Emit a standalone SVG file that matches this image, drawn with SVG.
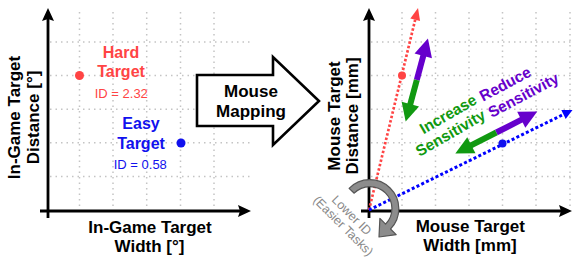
<svg xmlns="http://www.w3.org/2000/svg" width="582" height="267" viewBox="0 0 582 267">
<style>
text{font-family:"Liberation Sans",Arial,sans-serif}
.b{font-weight:bold}
.lbl{font-size:17px;font-weight:bold;fill:#000}
.tg{font-size:16px;font-weight:bold}
.id{font-size:13px}
.grid line{stroke:#c4c4c4;stroke-width:1.5;stroke-dasharray:1.5 4}
.axis{stroke:#000;stroke-width:2.8;fill:none;marker-end:url(#ax)}
.red{fill:#ff4444}
.blue{fill:#1111ee}
.sens{font-size:15.5px;font-weight:bold}
</style>
<defs>
<marker id="ax" markerUnits="userSpaceOnUse" markerWidth="14" markerHeight="12" refX="3" refY="6" orient="auto" overflow="visible">
<path d="M0,0 L13,6 L0,12 L2,6 z" fill="#000"/>
</marker>
<marker id="rh" markerUnits="userSpaceOnUse" markerWidth="12" markerHeight="10" refX="0" refY="0" orient="auto" overflow="visible">
<path d="M0,-5 L12,0 L0,5 z" fill="#ff4444"/>
</marker>
<marker id="bh" markerUnits="userSpaceOnUse" markerWidth="10" markerHeight="10" refX="0" refY="0" orient="auto" overflow="visible">
<path d="M0,-5 L10,0 L0,5 z" fill="#0000ff"/>
</marker>
</defs>
<rect width="582" height="267" fill="#fff"/>

<g id="left-grid" class="grid">
<line x1="79.5" y1="12" x2="79.5" y2="209"/>
<line x1="113" y1="12" x2="113" y2="209"/>
<line x1="146.7" y1="12" x2="146.7" y2="209"/>
<line x1="180.5" y1="12" x2="180.5" y2="209"/>
<line x1="214" y1="12" x2="214" y2="209"/>
<line x1="50" y1="42" x2="250" y2="42"/>
<line x1="50" y1="75.6" x2="250" y2="75.6"/>
<line x1="50" y1="109.2" x2="250" y2="109.2"/>
<line x1="50" y1="142.8" x2="250" y2="142.8"/>
<line x1="50" y1="176.4" x2="250" y2="176.4"/>
</g>
<g id="right-grid" class="grid">
<line x1="402" y1="12" x2="402" y2="209"/>
<line x1="435.5" y1="12" x2="435.5" y2="209"/>
<line x1="469" y1="12" x2="469" y2="209"/>
<line x1="502.5" y1="12" x2="502.5" y2="209"/>
<line x1="536" y1="12" x2="536" y2="209"/>
<line x1="570" y1="12" x2="570" y2="209"/>
<line x1="371" y1="42" x2="573" y2="42"/>
<line x1="371" y1="75.6" x2="573" y2="75.6"/>
<line x1="371" y1="109.2" x2="573" y2="109.2"/>
<line x1="371" y1="142.8" x2="573" y2="142.8"/>
<line x1="371" y1="176.4" x2="573" y2="176.4"/>
</g>

<g id="connectors">
<line class="axis" x1="48" y1="218" x2="48" y2="18"/>
<line class="axis" x1="40" y1="211" x2="241" y2="211"/>
<line class="axis" x1="369" y1="218" x2="369" y2="18"/>
<line class="axis" x1="361" y1="211" x2="562" y2="211"/>
<line x1="369" y1="210" x2="415.2" y2="19.7" stroke="#ff4444" stroke-width="2.7" stroke-dasharray="2.5 2" marker-end="url(#rh)"/>
<line x1="369" y1="210" x2="563.5" y2="114.4" stroke="#0000ff" stroke-width="3" stroke-dasharray="3 2.3" marker-end="url(#bh)"/>
</g>

<g id="hard-target">
<circle cx="79.5" cy="75.5" r="4.5" class="red"/>
<text x="121" y="57.5" text-anchor="middle" class="tg red">Hard</text>
<text x="121" y="77" text-anchor="middle" class="tg red">Target</text>
<text x="121.3" y="97.5" text-anchor="middle" class="id red">ID = 2.32</text>
</g>
<g id="easy-target">
<circle cx="181" cy="143" r="4.5" class="blue"/>
<text x="141" y="129" text-anchor="middle" class="tg blue">Easy</text>
<text x="141" y="149" text-anchor="middle" class="tg blue">Target</text>
<text x="140.3" y="169" text-anchor="middle" class="id blue">ID = 0.58</text>
</g>

<g id="left-y-label" transform="translate(0,117.5) rotate(-90)">
<text x="0" y="19.5" text-anchor="middle" class="lbl">In-Game Target</text>
<text x="0" y="38.5" text-anchor="middle" class="lbl">Distance [°]</text>
</g>
<g id="left-x-label">
<text x="150" y="233.3" text-anchor="middle" class="lbl">In-Game Target</text>
<text x="149.5" y="252.3" text-anchor="middle" class="lbl">Width [°]</text>
</g>

<g id="mouse-mapping">
<polygon points="197,75 273,75 273,57 319,101 273,145 273,126 197,126" fill="#fff" stroke="#000" stroke-width="2.6" stroke-linejoin="miter"/>
<text x="251" y="97" text-anchor="middle" class="lbl">Mouse</text>
<text x="251" y="117" text-anchor="middle" class="lbl">Mapping</text>
</g>

<g id="right-y-label" transform="translate(0,116) rotate(-90)">
<text x="0" y="339.5" text-anchor="middle" class="lbl">Mouse Target</text>
<text x="0" y="358" text-anchor="middle" class="lbl">Distance [mm]</text>
</g>
<g id="right-x-label">
<text x="470.3" y="231.7" text-anchor="middle" class="lbl">Mouse Target</text>
<text x="470" y="251" text-anchor="middle" class="lbl">Width [mm]</text>
</g>

<g id="hard-mouse">
<circle cx="402" cy="75.5" r="4" class="red"/>
</g>
<g id="easy-mouse">
<circle cx="502.5" cy="143.5" r="4" class="blue"/>
</g>

<g id="sens-arrow-hard" transform="translate(416.8,80) rotate(-75)">
<line x1="0" y1="0" x2="27" y2="0" stroke="#6600cc" stroke-width="6"/>
<polygon points="43,0 25,-9 25,9" fill="#6600cc"/>
<line x1="0" y1="0" x2="-27" y2="0" stroke="#119911" stroke-width="6"/>
<polygon points="-43,0 -25,-9 -25,9" fill="#119911"/>
</g>
<g id="sens-arrow-easy" transform="translate(496.3,132.5) rotate(-27)">
<line x1="0" y1="0" x2="30" y2="0" stroke="#6600cc" stroke-width="6"/>
<polygon points="46,0 28,-9 28,9" fill="#6600cc"/>
<line x1="0" y1="0" x2="-30" y2="0" stroke="#119911" stroke-width="6"/>
<polygon points="-46,0 -28,-9 -28,9" fill="#119911"/>
</g>

<g id="increase-label" transform="translate(478,103) rotate(-30)">
<text x="0" y="0" text-anchor="end" class="sens" fill="#119911">Increase</text>
<text x="0" y="17.5" text-anchor="end" class="sens" fill="#119911">Sensitivity</text>
</g>
<g id="reduce-label" transform="translate(483,101.7) rotate(-28)">
<text x="0" y="0" class="sens" fill="#6600cc">Reduce</text>
<text x="0" y="18.5" class="sens" fill="#6600cc">Sensitivity</text>
</g>

<g id="lower-id">
<path d="M349.1,188.35 A29,29 0 1 1 390.5,229 L396.2,234.7 L379,237 L379.9,218.4 L385.6,224.1 A22,22 0 1 0 354.2,193.2 Z" fill="#8c8c8c" stroke="#555" stroke-width="1.2" stroke-linejoin="round"/>
<g transform="translate(348.8,218.2) rotate(45)">
<text x="0" y="0" text-anchor="middle" font-size="12.5" fill="#888">Lower ID</text>
<text x="1.5" y="13.5" text-anchor="middle" font-size="12.5" fill="#888">(Easier Tasks)</text>
</g>
</g>
</svg>
